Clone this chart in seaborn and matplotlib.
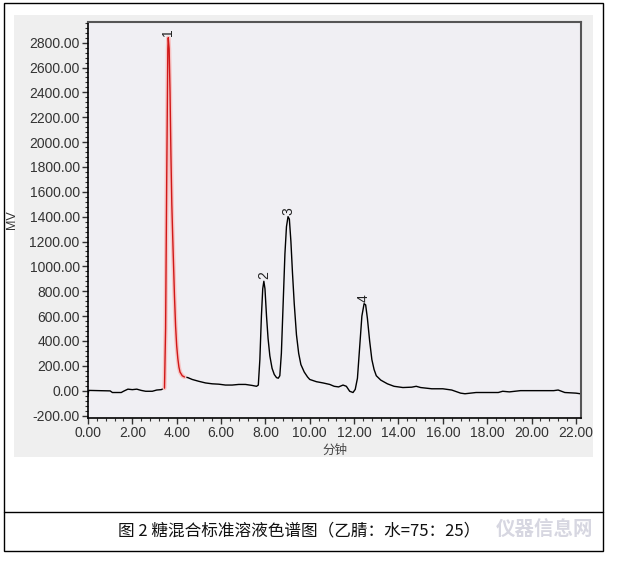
import matplotlib
matplotlib.use("Agg")

import numpy as np
import pandas as pd
import seaborn as sns
import matplotlib.pyplot as plt
from matplotlib.ticker import MultipleLocator, FormatStrFormatter
from matplotlib.patches import Rectangle
from matplotlib.lines import Line2D

# chromatogram (time in min, signal in mV)
pre_t = [0.00, 0.03, 0.5, 1.0, 1.1, 1.5, 1.6, 1.8, 2.0, 2.2, 2.4, 2.6, 2.9, 3.1, 3.3, 3.45]
pre_v = [-45, 2, 0, -2, -15, -15, -5, 12, 8, 12, 2, -5, -5, 5, 8, 20]

peak1_t = [3.45, 3.50, 3.55, 3.60, 3.62, 3.66, 3.70, 3.74, 3.78, 3.82, 3.86, 3.90,
           3.95, 4.00, 4.05, 4.10, 4.15, 4.25, 4.35]
peak1_v = [20, 500, 1700, 2750, 2840, 2750, 2400, 1900, 1500, 1240, 1000, 760,
           520, 360, 260, 190, 150, 120, 110]

post_t = [4.35, 4.5, 4.7, 5.0, 5.3, 5.6, 5.9, 6.2, 6.5, 6.8, 7.1, 7.4, 7.6, 7.68,
          7.75, 7.82, 7.88, 7.93, 7.98, 8.05, 8.12, 8.2, 8.3, 8.4, 8.5, 8.58, 8.65,
          8.72, 8.8, 8.88, 8.95, 9.02, 9.08, 9.15, 9.22, 9.3, 9.4, 9.5, 9.6, 9.75,
          9.9, 10.0, 10.3, 10.6, 10.9, 11.1, 11.3, 11.5, 11.65, 11.8, 11.95, 12.05,
          12.15, 12.25, 12.35, 12.45, 12.52, 12.6, 12.7, 12.8, 12.9, 13.0, 13.2,
          13.5, 13.8, 14.2, 14.6, 14.8, 15.0, 15.5, 16.0, 16.4, 16.8, 17.0, 17.5,
          18.0, 18.5, 18.7, 19.0, 19.5, 20.0, 20.5, 21.0, 21.2, 21.5, 22.0, 22.2]
post_v = [110, 105, 90, 75, 62, 55, 52, 45, 45, 50, 50, 42, 35, 45,
          250, 600, 820, 880, 820, 600, 420, 280, 180, 130, 105, 100, 120,
          300, 700, 1100, 1320, 1400, 1380, 1200, 950, 700, 450, 300, 210, 150,
          110, 90, 72, 62, 50, 35, 30, 45, 35, -5, -15, 10,
          100, 350, 600, 700, 690, 580, 400, 250, 170, 120, 85,
          55, 35, 25, 28, 35, 25, 15, 15, 5, -20, -25, -15,
          -15, -15, -5, -10, 0, 0, 0, 0, 5, -15, -20, -25]

peak_labels = ["1", "2", "3", "4"]
peak_times = [3.62, 7.93, 9.02, 12.45]
peak_heights = [2840, 880, 1400, 700]

x_ticks = np.arange(0, 24, 2)
y_ticks = np.arange(-200, 3000, 200)

caption = "图 2 糖混合标准溶液色谱图（乙腈：水=75：25）"

sns.set_style("ticks")
plt.rcParams["font.family"] = ["Liberation Sans", "Noto Sans CJK SC", "DejaVu Sans"]

fig = plt.figure(figsize=(6.2, 5.69), dpi=100)
fig.patch.set_facecolor("white")

# frame, grey panel and caption box
fig.add_artist(Rectangle((0.0065, 0.0316), 0.966, 0.963, transform=fig.transFigure,
                         fill=False, edgecolor="black", lw=1.0))
fig.add_artist(Rectangle((0.0226, 0.1968), 0.934, 0.7768, transform=fig.transFigure,
                         facecolor="#efefef", edgecolor="none", zorder=0))
fig.add_artist(Line2D([0.0065, 0.9725], [0.1002, 0.1002], transform=fig.transFigure,
                      color="black", lw=1.0))

ax = fig.add_axes([0.1419, 0.2654, 0.7952, 0.6959])
ax.set_facecolor("#f0eff3")

pre_df = pd.DataFrame({"t": pre_t, "v": pre_v})
peak1_df = pd.DataFrame({"t": peak1_t, "v": peak1_v})
post_df = pd.DataFrame({"t": post_t, "v": post_v})

sns.lineplot(data=pre_df, x="t", y="v", ax=ax, color="black", lw=1.0,
             sort=False, estimator=None)
sns.lineplot(data=post_df, x="t", y="v", ax=ax, color="black", lw=1.0,
             sort=False, estimator=None)
sns.lineplot(data=peak1_df, x="t", y="v", ax=ax, color="#f7c4c4", lw=3.0,
             sort=False, estimator=None)
sns.lineplot(data=peak1_df, x="t", y="v", ax=ax, color="#d01818", lw=1.0,
             sort=False, estimator=None)

for lab, t, h in zip(peak_labels, peak_times, peak_heights):
    ax.text(t, h + 15, lab, rotation=90, ha="center", va="bottom", fontsize=10,
            color="#222222")

ax.set_xlim(0, 22.23)
ax.set_ylim(-220, 2966)
ax.set_xticks(x_ticks)
ax.set_yticks(y_ticks)
ax.xaxis.set_major_formatter(FormatStrFormatter("%.2f"))
ax.yaxis.set_major_formatter(FormatStrFormatter("%.2f"))
ax.xaxis.set_minor_locator(MultipleLocator(0.4))
ax.yaxis.set_minor_locator(MultipleLocator(40))
ax.tick_params(axis="both", which="major", length=4, width=1, labelsize=10,
               colors="#333333", pad=2)
ax.tick_params(axis="both", which="minor", length=2, width=0.8, color="#333333")

for side in ["left", "bottom"]:
    ax.spines[side].set_color("black")
    ax.spines[side].set_linewidth(1.2)
for side in ["top", "right"]:
    ax.spines[side].set_color("#555555")
    ax.spines[side].set_linewidth(1.5)

ax.set_xlabel("分钟", fontsize=9, color="#444444", labelpad=3)
ax.set_ylabel("MV", fontsize=9, color="#333333", labelpad=8)

fig.text(0.19, 0.067, caption, ha="left", va="center", fontsize=12,
         family=["Noto Sans CJK SC", "DejaVu Sans"], color="#111111")
fig.text(0.80, 0.067, "仪器信息网", ha="left", va="center", fontsize=14,
         fontweight="bold", family=["Noto Sans CJK SC", "DejaVu Sans"],
         color="#d0d0dc", alpha=0.85)

fig.savefig("out.png", dpi=100, facecolor="white")
